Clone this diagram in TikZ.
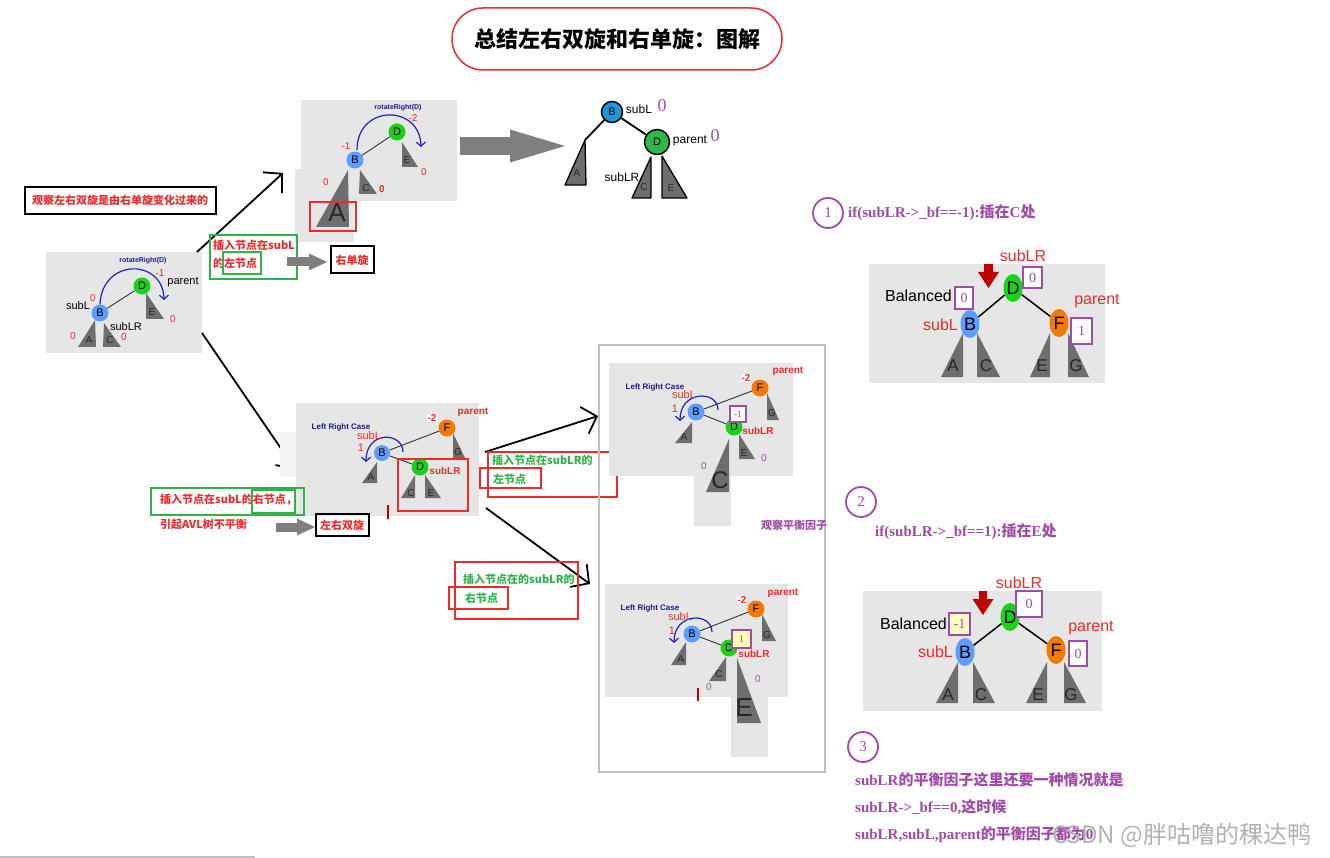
\documentclass[tikz,border=0pt]{standalone}
\usepackage{fontspec}
\setmainfont{Liberation Sans}
\newfontfamily\cjk{Noto Sans CJK SC}
\newfontfamily\serifb{Liberation Serif}
\usetikzlibrary{arrows.meta,positioning,calc,shapes.geometric}
\newcommand{\fsz}[1]{\fontsize{#1}{#1}\selectfont}
\newcommand{\zh}[1]{{\cjk #1}}
\definecolor{panel}{HTML}{E6E6E6}
\definecolor{subtree}{HTML}{6E6E6E}
\definecolor{hot}{HTML}{EE2A2A}
\definecolor{leafgreen}{HTML}{2DB34A}
\definecolor{plum}{HTML}{A04BA8}
\definecolor{navy}{HTML}{1C1C8C}
\definecolor{nblue}{HTML}{5C9DFF}
\definecolor{ngreen}{HTML}{16D316}
\definecolor{norange}{HTML}{F27A00}
\definecolor{cblue}{HTML}{1E96DC}
\definecolor{cgreen}{HTML}{2EB84A}
\definecolor{rotblue}{HTML}{1E1ED8}
\definecolor{darkred}{HTML}{C00000}
\definecolor{fatgray}{HTML}{7F7F7F}
\tikzset{
  panelbg/.style={fill=panel},
  tri/.style={fill=subtree},
  otri/.style={fill=subtree,draw=black,line width=1.3pt,line join=round},
  tlet/.style={inner sep=0pt,text=black!85,font=\fsz{10}},
  vtx/.style={circle,inner sep=0pt,minimum size=17pt,font=\fsz{11}},
  ovtx/.style={circle,draw=black,line width=1.5pt,inner sep=0pt,font=\fsz{11}},
  evtx/.style={ellipse,inner sep=0pt,minimum width=19pt,minimum height=28pt,font=\fsz{18}},
  link/.style={black!80,line width=0.9pt},
  blink/.style={black,line width=1.8pt},
  rotarc/.style={rotblue,line width=1.2pt,-{Straight Barb[length=4pt,width=9pt]}},
  rotlbl/.style={navy,inner sep=0pt,font=\bfseries\fsz{7}},
  bal/.style={hot,inner sep=0.5pt,font=\fsz{10}},
  pbal/.style={plum,inner sep=0pt,font=\fsz{10}},
  tag/.style={inner sep=0pt,font=\fsz{11}},
  hottag/.style={hot,inner sep=0pt,font=\bfseries\fsz{10}},
  lrc/.style={navy,inner sep=0pt,font=\bfseries\fsz{8}},
  bfbox/.style={draw=plum,line width=1.5pt,fill=white,text=plum,inner sep=0pt,font=\serifb\fsz{14}},
  blackbox/.style={draw=black,line width=2pt},
  greenbox/.style={draw=leafgreen,line width=1.6pt},
  hotbox/.style={draw=hot,line width=1.6pt},
  zhred/.style={hot,inner sep=0pt,anchor=west,font=\cjk\bfseries\fsz{11}},
  zhgreen/.style={leafgreen,inner sep=0pt,anchor=west,font=\cjk\bfseries\fsz{11}},
  flow/.style={line width=1.8pt,-{Straight Barb[length=13pt,width=28pt]}},
  fatarrow/.style={fatgray,line width=9pt,-{Triangle[length=18pt,width=17pt,line width=0pt]}},
  dropmark/.style={darkred,line width=9pt,-{Triangle[length=16pt,width=21pt,line width=0pt]}},
  numring/.style={circle,draw=plum,line width=1.8pt,minimum size=30pt,inner sep=0pt,text=plum,font=\serifb\fsz{15}},
  cond/.style={plum,anchor=west,inner sep=0pt,font=\serifb\bfseries\fsz{15}},
  bigtag/.style={hot,inner sep=0pt,font=\fsz{16}},
  baltag/.style={inner sep=0pt,font=\fsz{16}},
  redmark/.style={darkred,line width=2.5pt},
  titlebox/.style={draw=hot,line width=1.5pt,rounded corners=31pt,minimum width=330pt,minimum height=62pt,font=\cjk\bfseries\fsz{22}},
}
\begin{document}
\begin{tikzpicture}[x=1pt,y=-1pt]
  \useasboundingbox (0,0) rectangle (1330,858);
  \node[titlebox] (title) at (617,39) {总结左右双旋和右单旋：图解};
  % left notes
  \node[zhred,anchor=center] (note) at (120,200) {观察左右双旋是由右单旋变化过来的};
  \draw[blackbox] (25,187) rectangle (216,214);

  % panel 1: start
  \fill[panelbg] (46,252) rectangle (202,353);
  \fill[tri] (95,320) -- (78,347) -- (96,347) -- cycle;
  \fill[tri] (104,323) -- (103,347) -- (121,347) -- cycle;
  \fill[tri] (146,293) -- (146,319) -- (164,319) -- cycle;
  \node[tlet] (aA) at (89,340) {A};
  \node[tlet] (aC) at (110,340) {C};
  \node[tlet] (aE) at (152,312) {E};
  \node[vtx,fill=nblue] (aB) at (100,313) {B};
  \node[vtx,fill=ngreen] (aD) at (142,286) {D};
  \draw[link] (aB) -- (aD);
  \draw[rotarc] (aB.north) .. controls (102,258) and (163,258) .. (164,300);
  \node[rotlbl] (aRot) at (143,261) {rotateRight(D)};
  \node[bal] (aBfD) at (160,273) {-1};
  \node[tag] (aPar) at (183,282) {parent};
  \node[bal] (aBfB) at (93,298) {0};
  \node[tag] (aSubL) at (78,306) {subL};
  \node[tag] (aSubLR) at (126,327) {subLR};
  \node[bal] (aBfA) at (73,336) {0};
  \node[bal] (aBfC) at (124,337) {0};
  \node[bal] (aBfE) at (173,319) {0};

  % panel 2: right single rotation
  \fill[panelbg] (301,100) rectangle (457,201);
  \fill[panelbg] (295,169) rectangle (354,242);
  \fill[tri] (402,142) -- (402,167) -- (418,167) -- cycle;
  \fill[tri] (360,170) -- (359,194) -- (377,194) -- cycle;
  \fill[tri] (348,170) -- (316,227) -- (349,227) -- cycle;
  \node[tlet] (bE) at (407,160) {E};
  \node[tlet] (bC) at (366,188) {C};
  \node[tlet,font=\fsz{26}] (bA) at (337,213) {A};
  \draw[hotbox] (310,202) rectangle (356,231);
  \node[vtx,fill=nblue] (bB) at (355,160) {B};
  \node[vtx,fill=ngreen] (bD) at (397,132) {D};
  \draw[link] (bB) -- (bD);
  \draw[rotarc] (357,150) .. controls (357,104) and (420,104) .. (421,147);
  \node[rotlbl] (bRot) at (398,108) {rotateRight(D)};
  \node[bal] (bBfD) at (413,118) {-2};
  \node[bal] (bBfB) at (346,146) {-1};
  \node[bal] (bBfE) at (424,172) {0};
  \node[bal,font=\bfseries\fsz{10}] (bBfC) at (382,189) {0};
  \node[bal] (bBfA) at (326,182) {0};

  % result of right rotation
  \coordinate (bigS) at (460,146);
  \coordinate (bigT) at (565,146);
  \draw[fatarrow,line width=18pt,-{Triangle[length=55pt,width=33pt,line width=0pt]}] (bigS) -- (bigT);
  \coordinate (cTop) at (585,140);
  \filldraw[otri] (585,140) -- (565,185) -- (586,185) -- cycle;
  \filldraw[otri] (651,157) -- (632,198) -- (651,198) -- cycle;
  \filldraw[otri] (662,156) -- (662,198) -- (687,198) -- cycle;
  \node[tlet] (cA) at (577,173) {A};
  \node[tlet] (cC) at (644,187) {C};
  \node[tlet] (cE) at (671,188) {E};
  \node[ovtx,fill=cblue,minimum size=21pt] (cB) at (612,112) {B};
  \node[ovtx,fill=cgreen,minimum size=25pt] (cD) at (657,142) {D};
  \draw[blink] (cB) -- (cD);
  \draw[blink] (cB) -- (cTop);
  \node[tag,font=\fsz{12}] (cSubL) at (639,109) {subL};
  \node[pbal,font=\serifb\fsz{18}] (cBfB) at (662,106) {0};
  \node[tag,font=\fsz{12}] (cPar) at (690,141) {parent};
  \node[pbal,font=\serifb\fsz{18}] (cBfD) at (715,136) {0};
  \node[tag,font=\fsz{12}] (cSubLR) at (622,177) {subLR};

  % arrows out of panel 1
  \coordinate (upS) at (197,252);
  \coordinate (upT) at (283,173);
  \coordinate (dnS) at (202,333);
  \coordinate (dnT) at (295,469);
  \draw[flow] (upS) -- (upT);
  \draw[flow] (dnS) -- (dnT);

  % left child case
  \draw[greenbox] (210,235) rectangle (297,279);
  \node[zhred] (lcase1) at (213,245) {插入节点在subL};
  \node[zhred] (lcase2) at (213,263) {的左节点};
  \draw[greenbox] (223,252) rectangle (261,274);
  \coordinate (gA1) at (287,262);
  \coordinate (gA2) at (327,262);
  \draw[fatarrow] (gA1) -- (gA2);
  \node[zhred,anchor=center] (single) at (352,260) {右单旋};
  \draw[blackbox] (331,246) rectangle (374,273);

  % panel 3: left right case
  \fill[panel!50] (280,432) rectangle (296,477);
  \fill[panelbg] (296,403) rectangle (479,516);
  \fill[tri] (453,433) -- (453,458) -- (465,458) -- cycle;
  \fill[tri] (377,462) -- (362,483) -- (377,483) -- cycle;
  \fill[tri] (415,475) -- (401,498) -- (415,498) -- cycle;
  \fill[tri] (425,475) -- (425,498) -- (441,498) -- cycle;
  \node[tlet] (dG) at (458,452) {G};
  \node[tlet] (dA) at (371,477) {A};
  \node[tlet] (dC) at (411,493) {C};
  \node[tlet] (dE) at (431,493) {E};
  \node[vtx,fill=nblue,minimum size=16pt] (dB) at (382,453) {B};
  \node[vtx,fill=ngreen] (dD) at (420,467) {D};
  \node[vtx,fill=norange] (dF) at (447,428) {F};
  \draw[link] (dB) -- (dF);
  \draw[link] (dB) -- (dD);
  \draw[rotarc] (403,452) .. controls (403,432) and (366,430) .. (366,462);
  \node[lrc] (dCase) at (341,427) {Left Right Case};
  \node[bal,font=\bfseries\fsz{10},fill=white] (dBfF) at (432,418) {-2};
  \node[hottag] (dPar) at (473,412) {parent};
  \node[bal,font=\fsz{11}] (dSubL) at (369,436) {subL};
  \node[bal,font=\fsz{11}] (dBfB) at (361,448) {1};
  \node[hottag] (dSubLR) at (445,471) {subLR};
  \draw[hotbox] (398,459) rectangle (468,511);
  \draw[redmark] (388,505) -- (388,519);

  % right child of subL
  \draw[greenbox] (151,488) rectangle (304,515);
  \node[zhred] (rcase1) at (160,500) {插入节点在subL的右节点，};
  \draw[greenbox] (252,490) rectangle (295,513);
  \node[zhred] (rcase2) at (160,524) {引起AVL树不平衡};
  \coordinate (gB1) at (276,527);
  \coordinate (gB2) at (315,527);
  \draw[fatarrow] (gB1) -- (gB2);
  \node[zhred,anchor=center] (double) at (342,525) {左右双旋};
  \draw[blackbox] (316,514) rectangle (369,536);

  % arrows out of panel 3
  \coordinate (rUpS) at (485,452);
  \coordinate (rUpT) at (598,416);
  \coordinate (rDnS) at (486,508);
  \coordinate (rDnT) at (590,584);
  \draw[flow] (rUpS) -- (rUpT);
  \draw[flow] (rDnS) -- (rDnT);
  \draw[hotbox] (488,452) rectangle (617,497);
  \node[zhgreen] (subLRl1) at (492,460) {插入节点在subLR的};
  \node[zhgreen] (subLRl2) at (493,479) {左节点};
  \draw[hotbox] (480,468) rectangle (541,488);
  \draw[hotbox] (455,562) rectangle (578,619);
  \node[zhgreen] (subLRr1) at (463,579) {插入节点在的subLR的};
  \node[zhgreen] (subLRr2) at (465,598) {右节点};
  \draw[hotbox] (449,587) rectangle (508,609);

  % container
  \draw[black!25,line width=2pt] (599,345) rectangle (825,772);

  % panel 4: inserted at C
  \fill[panelbg] (609,363) rectangle (793,476);
  \fill[panelbg] (694,476) rectangle (731,526);
  \fill[tri] (767,393) -- (767,420) -- (779,420) -- cycle;
  \fill[tri] (692,422) -- (675,443) -- (692,443) -- cycle;
  \fill[tri] (739,434) -- (739,459) -- (755,459) -- cycle;
  \fill[tri] (729,439) -- (706,492) -- (729,492) -- cycle;
  \node[tlet] (eG) at (772,413) {G};
  \node[tlet] (eA) at (684,437) {A};
  \node[tlet] (eE) at (744,453) {E};
  \node[tlet,font=\fsz{24}] (eC) at (720,480) {C};
  \node[vtx,fill=nblue] (eB) at (696,412) {B};
  \node[vtx,fill=ngreen] (eD) at (734,427) {D};
  \node[vtx,fill=norange] (eF) at (760,388) {F};
  \draw[link] (eB) -- (eF);
  \draw[link] (eB) -- (eD);
  \draw[rotarc] (718,410) .. controls (718,390) and (680,390) .. (680,421);
  \node[lrc] (eCase) at (655,387) {Left Right Case};
  \node[bal,font=\bfseries\fsz{10},fill=white] (eBfF) at (746,378) {-2};
  \node[hottag] (ePar) at (788,371) {parent};
  \node[bal,font=\fsz{11}] (eSubL) at (684,395) {subL};
  \node[bal,font=\fsz{11}] (eBfB) at (675,409) {1};
  \node[bfbox,minimum size=16pt,font=\serifb\fsz{10}] (eBfD) at (738,414) {-1};
  \node[hottag] (eSubLR) at (758,431) {subLR};
  \node[pbal] (eBfE) at (764,458) {0};
  \node[pbal] (eBfC) at (704,466) {0};
  \node[plum,inner sep=0pt,font=\cjk\bfseries\fsz{11}] (watch) at (794,525) {观察平衡因子};

  % panel 5: inserted at E
  \fill[panelbg] (605,584) rectangle (788,697);
  \fill[panelbg] (731,697) rectangle (768,757);
  \fill[tri] (762,614) -- (762,641) -- (776,641) -- cycle;
  \fill[tri] (686,642) -- (671,665) -- (686,665) -- cycle;
  \fill[tri] (726,657) -- (709,681) -- (726,681) -- cycle;
  \fill[tri] (737,658) -- (737,723) -- (761,723) -- cycle;
  \node[tlet] (fG) at (767,635) {G};
  \node[tlet] (fA) at (681,659) {A};
  \node[tlet] (fC) at (719,674) {C};
  \node[tlet,font=\fsz{26}] (fE) at (744,708) {E};
  \node[vtx,fill=nblue] (fB) at (692,634) {B};
  \node[vtx,fill=ngreen] (fD) at (729,648) {D};
  \node[vtx,fill=norange] (fF) at (756,609) {F};
  \draw[link] (fB) -- (fF);
  \draw[link] (fB) -- (fD);
  \draw[rotarc] (712,632) .. controls (712,612) and (674,612) .. (674,643);
  \node[lrc] (fCase) at (650,608) {Left Right Case};
  \node[bal,font=\bfseries\fsz{10},fill=white] (fBfF) at (742,600) {-2};
  \node[hottag] (fPar) at (783,593) {parent};
  \node[bal,font=\fsz{11}] (fSubL) at (680,617) {subL};
  \node[bal,font=\fsz{11}] (fBfB) at (672,631) {1};
  \node[bfbox,fill=yellow!30,minimum width=19pt,minimum height=18pt,font=\serifb\fsz{10}] (fBfD) at (741.5,639) {1};
  \node[hottag] (fSubLR) at (754,654) {subLR};
  \node[pbal] (fBfC) at (709,687) {0};
  \node[pbal] (fBfE) at (758,679) {0};
  \draw[redmark] (698,688) -- (698,701);

  % case 1
  \node[numring] (one) at (828,213) {1};
  \node[cond] (cond1) at (848,213) {if(subLR->\_bf==-1):\zh{插在}C\zh{处}};
  \fill[panelbg] (869,264) rectangle (1105,383);
  \fill[tri] (963,333) -- (941,377) -- (963,377) -- cycle;
  \fill[tri] (977,333) -- (977,377) -- (1000,377) -- cycle;
  \fill[tri] (1050,333) -- (1030,377) -- (1050,377) -- cycle;
  \fill[tri] (1068,333) -- (1068,377) -- (1089,377) -- cycle;
  \node[tlet,font=\fsz{17}] (gA) at (953,366) {A};
  \node[tlet,font=\fsz{17}] (gC) at (986,366) {C};
  \node[tlet,font=\fsz{17}] (gE) at (1042,366) {E};
  \node[tlet,font=\fsz{17}] (gG) at (1076,366) {G};
  \node[evtx,fill=ngreen] (gD) at (1013,288) {D};
  \node[evtx,fill=nblue] (gB) at (970,324) {B};
  \node[evtx,fill=norange] (gF) at (1059,323) {F};
  \draw[blink,line width=1.5pt] (gD) -- (gB);
  \draw[blink,line width=1.5pt] (gD) -- (gF);
  \coordinate (g1) at (988.5,264);
  \coordinate (g2) at (988.5,288);
  \draw[dropmark] (g1) -- (g2);
  \node[bigtag] (gSubLR) at (1023,256) {subLR};
  \node[bfbox,minimum width=19pt,minimum height=21pt] (gBfD) at (1032.5,277.5) {0};
  \node[baltag,anchor=east] (gBal) at (952,296) {Balanced};
  \node[bfbox,minimum width=18pt,minimum height=22pt] (gBfB) at (964,298) {0};
  \node[bigtag,anchor=east] (gSubL) at (958,325) {subL};
  \node[bigtag] (gPar) at (1097,301) {parent};
  \node[bfbox,minimum width=21pt,minimum height=26pt] (gBfF) at (1081.5,331) {1};

  % case 2
  \node[numring] (two) at (861,502) {2};
  \node[cond] (cond2) at (875,532) {if(subLR->\_bf==1):\zh{插在}E\zh{处}};
  \fill[panelbg] (863,591) rectangle (1102,711);
  \fill[tri] (958,662) -- (936,703) -- (958,703) -- cycle;
  \fill[tri] (973,662) -- (973,703) -- (995,703) -- cycle;
  \fill[tri] (1047,662) -- (1026,703) -- (1047,703) -- cycle;
  \fill[tri] (1064,662) -- (1064,703) -- (1086,703) -- cycle;
  \node[tlet,font=\fsz{17}] (hA) at (948,695) {A};
  \node[tlet,font=\fsz{17}] (hC) at (981,695) {C};
  \node[tlet,font=\fsz{17}] (hE) at (1038,695) {E};
  \node[tlet,font=\fsz{17}] (hG) at (1071,695) {G};
  \node[evtx,fill=ngreen] (hD) at (1010,617) {D};
  \node[evtx,fill=nblue] (hB) at (965,652) {B};
  \node[evtx,fill=norange] (hF) at (1056,650) {F};
  \draw[blink,line width=1.5pt] (hD) -- (hB);
  \draw[blink,line width=1.5pt] (hD) -- (hF);
  \coordinate (h1) at (983,591);
  \coordinate (h2) at (983,615);
  \draw[dropmark,line width=8pt] (h1) -- (h2);
  \node[bigtag] (hSubLR) at (1019,583) {subLR};
  \node[bfbox,minimum width=26pt,minimum height=26pt] (hBfD) at (1029,604) {0};
  \node[baltag,anchor=east] (hBal) at (947,624) {Balanced};
  \node[bfbox,fill=yellow!25,minimum width=21pt,minimum height=22pt] (hBfB) at (959.5,624) {-1};
  \node[bigtag,anchor=east] (hSubL) at (953,652) {subL};
  \node[bigtag] (hPar) at (1091,628) {parent};
  \node[bfbox,minimum width=18pt,minimum height=25pt] (hBfF) at (1078,653.5) {0};

  % case 3
  \node[numring] (three) at (863,747) {3};
  \node[cond] (cond3a) at (855,780) {subLR\zh{的平衡因子这里还要一种情况就是}};
  \node[cond] (cond3b) at (855,807) {subLR->\_bf==0,\zh{这时候}};
  \node[cond] (cond3c) at (855,835) {subLR,subL,parent\zh{的平衡因子都为}0};
  \node[anchor=west,inner sep=0pt,text=black!30,font=\cjk\fsz{24}] (mark) at (1052,835) {CSDN @胖咕噜的稞达鸭};
  \draw[black!25,line width=1.5pt] (0,857) -- (255,857);
\end{tikzpicture}
\end{document}
